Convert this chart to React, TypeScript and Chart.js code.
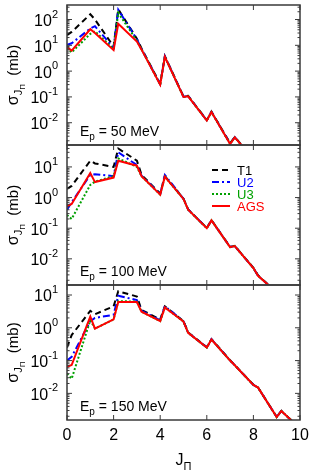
import React, { useEffect, useRef } from 'react';
import { Chart, registerables } from 'chart.js';

Chart.register(...registerables);

// ---------------- data ----------------
const J = [0, 0.2, 1, 1.2, 2, 2.2, 3, 3.2, 4, 4.2, 5, 5.2, 6, 6.2, 7, 7.2, 8, 8.2, 9, 9.2, 10];

const T1_50 = [25, 33, 160, 100, 9, 250, 18, 7.5, 0.32, 3.8, 0.104, 0.11, 0.0125, 0.027, 0.0016, 0.0028, 0.0004];
const U2_50 = [10.5, 12, 45, 55, 8, 240, 17, 7.2, 0.31, 3.7, 0.102, 0.108, 0.0124, 0.0265, 0.00155, 0.00275, 0.0004];
const U3_50 = [8, 5.3, 28, 35, 7.2, 180, 15, 7, 0.3, 3.6, 0.1, 0.106, 0.0122, 0.026, 0.0015, 0.0027, 0.0004];
const AGS_50 = [8.5, 6.2, 42, 30, 6.5, 68, 14, 6.8, 0.3, 3.6, 0.1, 0.105, 0.0122, 0.026, 0.0015, 0.0027, 0.0004];

const T1_100 = [1.9, 2.4, 16, 13, 10, 40, 16, 5.5, 1.35, 5.0, 0.92, 0.41, 0.102, 0.185, 0.0245, 0.0265, 0.0051, 0.0029, 0.0008];
const U2_100 = [0.4, 0.7, 5.5, 5.8, 5.0, 30, 11.5, 5.2, 1.3, 5.5, 0.91, 0.41, 0.101, 0.182, 0.0243, 0.0262, 0.005, 0.0028, 0.0008];
const U3_100 = [0.27, 0.2, 2.6, 3.3, 5.0, 19, 10, 5, 1.25, 4.8, 0.9, 0.4, 0.1, 0.18, 0.024, 0.026, 0.005, 0.0028, 0.0008];
const AGS_100 = [0.52, 0.62, 6.3, 3.2, 4.5, 16, 11, 5, 1.25, 4.8, 0.9, 0.4, 0.1, 0.18, 0.024, 0.026, 0.005, 0.0028, 0.0008];

const T1_150 = [0.25, 0.6, 3.3, 2.6, 4.5, 13, 9, 3.5, 1.8, 4.5, 1.6, 0.72, 0.255, 0.45, 0.102, 0.073, 0.0183, 0.0152, 0.0019, 0.0029, 0.00085];
const U2_150 = [0.1, 0.13, 1.6, 2.0, 2.5, 9.5, 7.0, 3.3, 1.7, 4.6, 1.58, 0.71, 0.252, 0.445, 0.101, 0.0725, 0.0181, 0.0151, 0.0019, 0.0029, 0.00085];
const U3_150 = [0.04, 0.028, 1.7, 0.95, 1.8, 6.5, 6.3, 3.1, 1.6, 4.2, 1.55, 0.7, 0.25, 0.44, 0.1, 0.072, 0.018, 0.015, 0.0019, 0.0029, 0.00085];
const AGS_150 = [0.065, 0.073, 2.2, 0.95, 1.8, 6.1, 6.1, 3.1, 1.6, 4.2, 1.55, 0.7, 0.25, 0.44, 0.1, 0.072, 0.018, 0.015, 0.0019, 0.0029, 0.00085];

const SERIES_NAMES = ['T1', 'U2', 'U3', 'AGS'];
const ENERGIES = ['50', '100', '150'];
const X_TICKS = [0, 2, 4, 6, 8, 10];
const Y_MIN = [0.00137, 0.0014, 0.00154];
const Y_MAX = [365, 52, 20.2];

const PANEL_SERIES = [
  [T1_50, U2_50, U3_50, AGS_50],
  [T1_100, U2_100, U3_100, AGS_100],
  [T1_150, U2_150, U3_150, AGS_150],
];

// ---------------- styles ----------------
const SERIES_COLORS = ['#000000', '#0000ff', '#00a000', '#ff0000'];
const SERIES_DASHES: number[][] = [[6, 4], [7, 3, 2, 3], [2, 2], []];
const FONT = '"Liberation Sans", Arial, Helvetica, sans-serif';
const FRAME = '#3a3a3a';

const PANEL_LAYOUT = [
  { top: 0, height: 150, padTop: 5, padBottom: 5 },
  { top: 140, height: 150, padTop: 5, padBottom: 5 },
  { top: 280, height: 190, padTop: 5, padBottom: 50 },
];

type Part = { t: string; size: number; dy: number };

function partsWidth(ctx: CanvasRenderingContext2D, parts: Part[]) {
  let w = 0;
  for (const p of parts) {
    ctx.font = `${p.size}px ${FONT}`;
    w += ctx.measureText(p.t).width;
  }
  return w;
}

function drawParts(ctx: CanvasRenderingContext2D, parts: Part[], x: number, y: number) {
  let cx = x;
  ctx.textAlign = 'left';
  ctx.textBaseline = 'alphabetic';
  for (const p of parts) {
    ctx.font = `${p.size}px ${FONT}`;
    ctx.fillText(p.t, cx, y + p.dy);
    cx += ctx.measureText(p.t).width;
  }
  return cx - x;
}

function makeFramePlugin(panel: number) {
  return {
    id: 'frame' + panel,
    afterDraw(chart: any) {
      const ctx: CanvasRenderingContext2D = chart.ctx;
      const { left, right, top, bottom } = chart.chartArea;
      const xs = chart.scales.x;
      const ys = chart.scales.y;
      ctx.save();
      ctx.fillStyle = '#000';
      ctx.strokeStyle = FRAME;
      ctx.setLineDash([]);

      const seg = (x1: number, y1: number, x2: number, y2: number) => {
        ctx.beginPath();
        ctx.moveTo(x1, y1);
        ctx.lineTo(x2, y2);
        ctx.stroke();
      };

      // ticks
      ctx.lineWidth = 1;
      for (const t of X_TICKS) {
        const x = xs.getPixelForValue(t);
        seg(x, bottom, x, bottom - 5);
        seg(x, top, x, top + 5);
      }
      const eMin = Math.floor(Math.log10(Y_MIN[panel]));
      const eMax = Math.ceil(Math.log10(Y_MAX[panel]));
      for (let e = eMin; e <= eMax; e++) {
        for (let m = 1; m <= 9; m++) {
          const v = m * Math.pow(10, e);
          if (v < Y_MIN[panel] || v > Y_MAX[panel]) continue;
          const y = ys.getPixelForValue(v);
          const len = m === 1 ? 5 : 2.5;
          seg(left, y, left + len, y);
          seg(right, y, right - len, y);
        }
      }

      // frame
      ctx.lineWidth = 1.5;
      ctx.strokeRect(left, top, right - left, bottom - top);

      // y tick labels 10^e
      ctx.fillStyle = '#000';
      for (let e = eMin; e <= eMax; e++) {
        const v = Math.pow(10, e);
        if (v < Y_MIN[panel] || v > Y_MAX[panel]) continue;
        const y = ys.getPixelForValue(v);
        const exp = String(e);
        ctx.font = `11px ${FONT}`;
        const ew = ctx.measureText(exp).width;
        ctx.font = `16px ${FONT}`;
        const bw = ctx.measureText('10').width;
        const xr = left - 9;
        ctx.textAlign = 'left';
        ctx.textBaseline = 'middle';
        ctx.font = `16px ${FONT}`;
        ctx.fillText('10', xr - ew - bw, y + 2);
        ctx.font = `11px ${FONT}`;
        ctx.fillText(exp, xr - ew, y - 5);
      }

      // y axis title (rotated)
      ctx.save();
      const cy = (top + bottom) / 2;
      ctx.translate(13, cy);
      ctx.rotate(-Math.PI / 2);
      const titleParts: Part[] = [
        { t: 'σ', size: 16, dy: 0 },
        { t: 'J', size: 11, dy: 4 },
        { t: 'Π', size: 8, dy: 7 },
        { t: '  (mb)', size: 15, dy: 0 },
      ];
      const tw = partsWidth(ctx, titleParts);
      drawParts(ctx, titleParts, -tw / 2, 5);
      ctx.restore();

      // panel label
      const lab: Part[] = [
        { t: 'E', size: 14, dy: 0 },
        { t: 'p', size: 10, dy: 4 },
        { t: ' = ' + ENERGIES[panel] + ' MeV', size: 14, dy: 0 },
      ];
      drawParts(ctx, lab, left + 13, bottom - 9);

      // legend
      if (panel === 1) {
        for (let i = 0; i < SERIES_NAMES.length; i++) {
          const y = top + 25 + 12 * i;
          ctx.strokeStyle = SERIES_COLORS[i];
          ctx.lineWidth = 2;
          ctx.setLineDash(SERIES_DASHES[i]);
          seg(left + 145, y, left + 163, y);
          ctx.setLineDash([]);
          ctx.fillStyle = SERIES_COLORS[i];
          ctx.font = `13px ${FONT}`;
          ctx.textAlign = 'left';
          ctx.textBaseline = 'middle';
          ctx.fillText(SERIES_NAMES[i], left + 170, y + 1);
        }
      }

      // x tick labels and title on bottom panel
      if (panel === 2) {
        ctx.fillStyle = '#000';
        ctx.font = `16px ${FONT}`;
        ctx.textAlign = 'center';
        ctx.textBaseline = 'middle';
        for (const t of X_TICKS) {
          ctx.fillText(String(t), xs.getPixelForValue(t), bottom + 16);
        }
        const xt: Part[] = [
          { t: 'J', size: 16, dy: 0 },
          { t: 'Π', size: 11, dy: 5 },
        ];
        const xw = partsWidth(ctx, xt);
        drawParts(ctx, xt, (left + right) / 2 - xw / 2, bottom + 45);
      }
      ctx.restore();
    },
  };
}

function Panel({ index }: { index: number }) {
  const ref = useRef<HTMLCanvasElement | null>(null);
  const lay = PANEL_LAYOUT[index];
  useEffect(() => {
    if (!ref.current) return;
    const series = PANEL_SERIES[index];
    const datasets = SERIES_NAMES.map((name, i) => ({
      label: name,
      data: series[i].map((v, k) => ({ x: J[k], y: v })),
      borderColor: SERIES_COLORS[i],
      backgroundColor: SERIES_COLORS[i],
      borderWidth: 2,
      borderDash: SERIES_DASHES[i],
      pointRadius: 0,
      fill: false,
      tension: 0,
      order: 3 - i,
    }));
    const chart = new Chart(ref.current, {
      type: 'line',
      data: { datasets },
      options: {
        animation: false,
        responsive: false,
        devicePixelRatio: 1,
        parsing: false as any,
        layout: { padding: { left: 67, right: 14, top: lay.padTop, bottom: lay.padBottom } },
        scales: {
          x: { type: 'linear', min: 0, max: 10, display: false },
          y: { type: 'logarithmic', min: Y_MIN[index], max: Y_MAX[index], display: false },
        },
        plugins: { legend: { display: false }, tooltip: { enabled: false } },
      },
      plugins: [makeFramePlugin(index)],
    } as any);
    return () => chart.destroy();
  }, [index]);
  return (
    <canvas
      ref={ref}
      width={314}
      height={lay.height}
      style={{ position: 'absolute', left: 0, top: lay.top, width: 314, height: lay.height }}
    />
  );
}

export default function App() {
  return (
    <div style={{ position: 'absolute', left: 0, top: 0, width: 314, height: 470, background: '#fff' }}>
      <Panel index={0} />
      <Panel index={1} />
      <Panel index={2} />
    </div>
  );
}
